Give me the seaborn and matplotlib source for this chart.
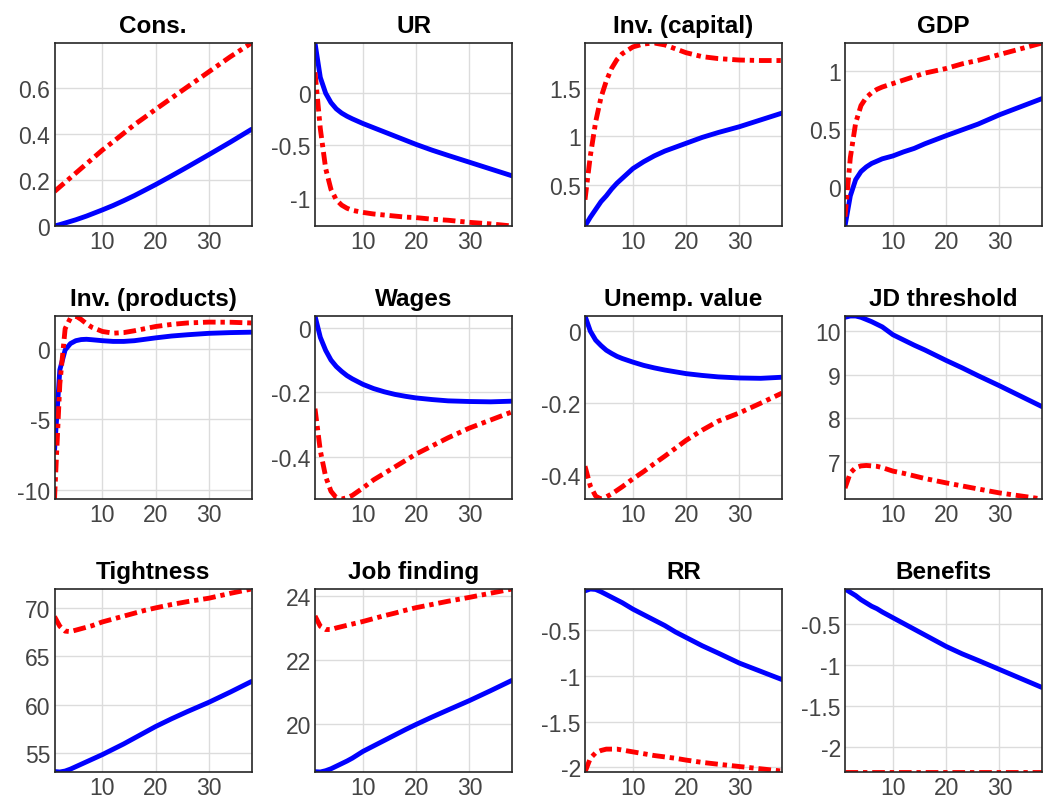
import numpy as np
import pandas as pd
import matplotlib
matplotlib.use('Agg')
import matplotlib.pyplot as plt
import seaborn as sns

periods = [1, 2, 3, 4, 5, 6, 7, 8, 10, 12, 14, 16, 18, 20, 23, 26, 30, 34, 38]

titles = ['Cons.', 'UR', 'Inv. (capital)', 'GDP',
          'Inv. (products)', 'Wages', 'Unemp. value', 'JD threshold',
          'Tightness', 'Job finding', 'RR', 'Benefits']

# blue solid line
cons_b = [0.0, 0.006, 0.013, 0.02, 0.027, 0.035, 0.043, 0.052, 0.07, 0.089, 0.11, 0.132, 0.156, 0.18, 0.218, 0.257, 0.31, 0.364, 0.42]
ur_b = [0.48, 0.15, 0.0, -0.09, -0.15, -0.19, -0.22, -0.245, -0.29, -0.33, -0.37, -0.41, -0.45, -0.49, -0.545, -0.595, -0.66, -0.725, -0.79]
invk_b = [0.08, 0.17, 0.25, 0.33, 0.39, 0.46, 0.52, 0.57, 0.67, 0.74, 0.8, 0.85, 0.89, 0.93, 0.99, 1.04, 1.1, 1.17, 1.24]
gdp_b = [-0.34, -0.08, 0.06, 0.13, 0.17, 0.2, 0.22, 0.24, 0.265, 0.3, 0.33, 0.37, 0.405, 0.44, 0.49, 0.54, 0.62, 0.69, 0.76]
invp_b = [-7.2, -1.5, -0.1, 0.35, 0.55, 0.63, 0.65, 0.62, 0.55, 0.5, 0.5, 0.55, 0.65, 0.75, 0.88, 0.97, 1.07, 1.12, 1.15]
wage_b = [0.036, -0.03, -0.07, -0.1, -0.12, -0.135, -0.148, -0.158, -0.175, -0.188, -0.198, -0.206, -0.212, -0.217, -0.222, -0.226, -0.228, -0.229, -0.227]
unv_b = [0.042, 0.0, -0.025, -0.04, -0.053, -0.062, -0.07, -0.076, -0.086, -0.095, -0.102, -0.108, -0.113, -0.118, -0.123, -0.127, -0.13, -0.131, -0.128]
jd_b = [10.32, 10.35, 10.35, 10.32, 10.27, 10.22, 10.16, 10.1, 9.92, 9.8, 9.68, 9.57, 9.45, 9.33, 9.16, 8.98, 8.75, 8.51, 8.27]
tight_b = [53.1, 53.05, 53.15, 53.35, 53.6, 53.85, 54.1, 54.35, 54.85, 55.4, 55.95, 56.55, 57.15, 57.75, 58.55, 59.3, 60.25, 61.3, 62.4]
jf_b = [18.53, 18.52, 18.56, 18.62, 18.7, 18.78, 18.86, 18.95, 19.16, 19.33, 19.5, 19.67, 19.84, 20.0, 20.23, 20.45, 20.74, 21.05, 21.37]
rr_b = [-0.07, -0.05, -0.055, -0.08, -0.11, -0.14, -0.17, -0.2, -0.27, -0.33, -0.39, -0.45, -0.52, -0.58, -0.67, -0.75, -0.86, -0.95, -1.04]
ben_b = [-0.07, -0.11, -0.15, -0.2, -0.24, -0.28, -0.31, -0.35, -0.42, -0.49, -0.56, -0.63, -0.7, -0.77, -0.86, -0.94, -1.05, -1.16, -1.27]

# red dash-dot line
cons_r = [0.15, 0.17, 0.19, 0.21, 0.23, 0.25, 0.27, 0.29, 0.33, 0.366, 0.403, 0.44, 0.473, 0.507, 0.556, 0.605, 0.67, 0.735, 0.795]
ur_r = [0.2, -0.34, -0.72, -0.92, -1.02, -1.07, -1.1, -1.12, -1.14, -1.155, -1.165, -1.175, -1.185, -1.19, -1.205, -1.215, -1.235, -1.25, -1.27]
invk_r = [0.35, 0.8, 1.15, 1.4, 1.57, 1.7, 1.79, 1.85, 1.92, 1.95, 1.96, 1.94, 1.9, 1.86, 1.82, 1.8, 1.785, 1.78, 1.78]
gdp_r = [-0.26, 0.25, 0.55, 0.7, 0.77, 0.81, 0.84, 0.86, 0.89, 0.92, 0.95, 0.98, 1.0, 1.02, 1.06, 1.09, 1.14, 1.19, 1.24]
invp_r = [-10.6, -2.5, 1.4, 2.15, 2.29, 2.05, 1.75, 1.5, 1.2, 1.08, 1.12, 1.25, 1.4, 1.55, 1.7, 1.8, 1.86, 1.85, 1.8]
wage_r = [-0.25, -0.38, -0.46, -0.505, -0.525, -0.529, -0.525, -0.518, -0.495, -0.47, -0.45, -0.43, -0.41, -0.39, -0.365, -0.34, -0.31, -0.285, -0.26]
unv_r = [-0.375, -0.43, -0.458, -0.466, -0.46, -0.452, -0.442, -0.432, -0.41, -0.39, -0.368, -0.347, -0.325, -0.303, -0.275, -0.25, -0.227, -0.2, -0.172]
jd_r = [6.4, 6.75, 6.87, 6.91, 6.92, 6.91, 6.9, 6.87, 6.79, 6.74, 6.68, 6.62, 6.57, 6.52, 6.45, 6.38, 6.29, 6.22, 6.15]
tight_r = [69.1, 68.1, 67.6, 67.55, 67.7, 67.85, 68.0, 68.15, 68.55, 68.85, 69.15, 69.45, 69.75, 70.0, 70.35, 70.65, 71.0, 71.5, 71.95]
jf_r = [23.37, 23.05, 22.95, 22.95, 23.0, 23.04, 23.08, 23.12, 23.2, 23.29, 23.38, 23.46, 23.55, 23.63, 23.73, 23.83, 23.95, 24.08, 24.21]
rr_r = [-2.05, -1.9, -1.84, -1.815, -1.8, -1.8, -1.8, -1.81, -1.83, -1.85, -1.87, -1.885, -1.9, -1.92, -1.945, -1.965, -1.99, -2.015, -2.04]
ben_r = [-2.3] * len(periods)

blue_series = [cons_b, ur_b, invk_b, gdp_b, invp_b, wage_b, unv_b, jd_b, tight_b, jf_b, rr_b, ben_b]
red_series = [cons_r, ur_r, invk_r, gdp_r, invp_r, wage_r, unv_r, jd_r, tight_r, jf_r, rr_r, ben_r]

yticks = [[0, 0.2, 0.4, 0.6], [-1, -0.5, 0], [0.5, 1, 1.5], [0, 0.5, 1],
          [-10, -5, 0], [-0.4, -0.2, 0], [-0.4, -0.2, 0], [7, 8, 9, 10],
          [55, 60, 65, 70], [20, 22, 24], [-2, -1.5, -1, -0.5], [-2, -1.5, -1, -0.5]]

sns.set_style('whitegrid')
plt.rcParams['font.family'] = ['Liberation Sans', 'DejaVu Sans']
plt.rcParams['axes.unicode_minus'] = False

fig, axes = plt.subplots(3, 4, figsize=(10.56, 8.04), dpi=100)

col_left = [54.5, 315, 585, 845]
row_top = [44, 317, 590]
w, h = 197, 183

for i, ax in enumerate(axes.flat):
    r, c = divmod(i, 4)
    ax.set_position([col_left[c] / 1056, 1 - (row_top[r] + h) / 804, w / 1056, h / 804])

    sns.lineplot(x=periods, y=blue_series[i], ax=ax, color='#0000ff', lw=3.5)
    sns.lineplot(x=periods, y=red_series[i], ax=ax, color='#ff0000', lw=3.5,
                 linestyle=(0, (2.6, 1.0, 0.9, 1.0)))

    lo = min(min(blue_series[i]), min(red_series[i]))
    hi = max(max(blue_series[i]), max(red_series[i]))
    ax.set_xlim(periods[0], periods[-1])
    ax.set_ylim(lo, hi)
    ax.set_xticks([10, 20, 30], labels=['10', '20', '30'])
    ax.set_yticks(yticks[i], labels=[f'{t:g}' for t in yticks[i]])
    ax.set_title(titles[i], fontsize=17.5, fontweight='bold', color='black', pad=8)
    ax.tick_params(labelsize=16.5, colors='#444444', direction='in', length=3, pad=3)
    ax.grid(True, color='#dcdcdc', lw=1)
    for s in ax.spines.values():
        s.set_visible(True)
        s.set_color('#262626')
        s.set_linewidth(1.2)
    ax.set_xlabel('')
    ax.set_ylabel('')

fig.savefig('out.png', dpi=100)
